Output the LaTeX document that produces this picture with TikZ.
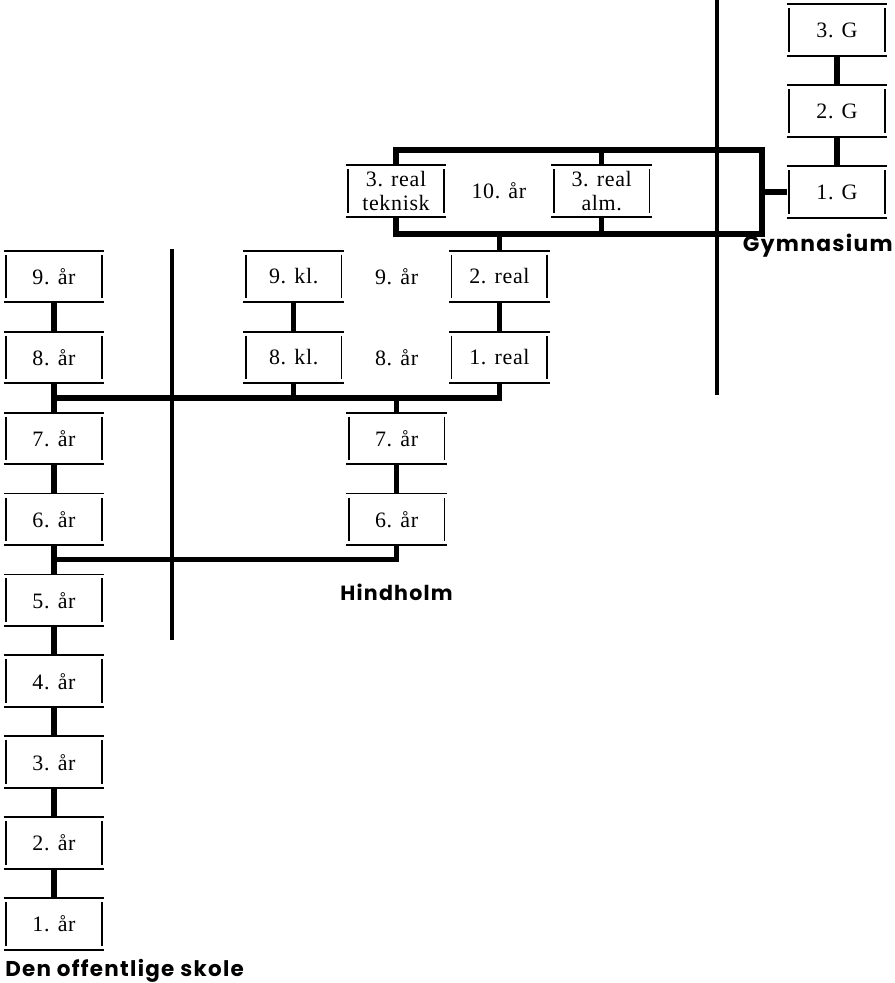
\documentclass[tikz,border=0pt]{standalone}
\usepackage{fontspec}
\setmainfont{Liberation Serif}[LetterSpace=3]
\newfontfamily\labelfont{Poppins}[LetterSpace=6]
\usetikzlibrary{positioning, calc}

\begin{document}
\begin{tikzpicture}[
    node distance=0.585cm and 2cm,
    rim/.style={line width=1.1pt},
    side/.style={line width=1pt},
    yr/.style={minimum width=2cm, minimum height=1.02cm, inner sep=0pt, align=center, font=\fontsize{12.5}{13.6}\selectfont,
        append after command={
            (\tikzlastnode.north west) edge[rim] (\tikzlastnode.north east)
            (\tikzlastnode.south west) edge[rim] (\tikzlastnode.south east)
            ([shift={(0.05,-0.08)}]\tikzlastnode.north west) edge[side] ([shift={(0.05,0.08)}]\tikzlastnode.south west)
            ([shift={(-0.05,-0.08)}]\tikzlastnode.north east) edge[side] ([shift={(-0.05,0.08)}]\tikzlastnode.south east)
        }},
    plain/.style={font=\fontsize{12.5}{13.6}\selectfont},
    link/.style={line width=3pt},
    bar/.style={line width=2.8pt},
    title/.style={font=\labelfont\bfseries\fontsize{11.7}{14}\selectfont, inner sep=0pt},
]
\useasboundingbox (0,0) rectangle (17.9,-19.66);

% Den offentlige skole
\node[yr] (y9) at (1.08,-5.53) {9. år};
\node[yr, below=of y9] (y8) {8. år};
\node[yr, below=of y8] (y7) {7. år};
\node[yr, below=of y7] (y6) {6. år};
\node[yr, below=of y6] (y5) {5. år};
\node[yr, below=of y5] (y4) {4. år};
\node[yr, below=of y4] (y3) {3. år};
\node[yr, below=of y3] (y2) {2. år};
\node[yr, below=of y2] (y1) {1. år};

% Hindholm
\node[yr, right=2.78cm of y9] (k9) {9. kl.};
\node[yr, below=of k9] (k8) {8. kl.};
\node[yr, right=2.1cm of k9] (r2) {2. real};
\node[yr, below=of r2] (r1) {1. real};
\node[plain] (t9) at ($(k9)!0.5!(r2)$) {9. år};
\node[plain] (t8) at ($(k8)!0.5!(r1)$) {8. år};
\node[yr] (m7) at (t8 |- y7) {7. år};
\node[yr, below=of m7] (m6) {6. år};

% 10. aar
\node[yr] (tk) at (7.92,-3.82) {3. real\\teknisk};
\node[yr, right=2.1cm of tk] (al) {3. real\\alm.};
\node[plain] (t10) at ($(tk)!0.5!(al)$) {10. år};

% Gymnasium
\node[yr] (g1) at (16.74,-3.84) {1. G};
\node[yr, above=of g1] (g2) {2. G};
\node[yr, above=of g2] (g3) {3. G};

\foreach \a/\b in {y9/y8, y8/y7, y7/y6, y6/y5, y5/y4, y4/y3, y3/y2, y2/y1, k9/k8, r2/r1, m7/m6, g3/g2, g2/g1} {
    \draw[link] (\a) -- (\b);
}

% branches
\coordinate (j8) at ($(y8.south)!0.5!(y7.north)$);
\coordinate (j6) at ($(y6.south)!0.5!(y5.north)$);
\draw[link] (j8) -- (j8 -| r1) -- (r1.south);
\draw[link] (k8.south) -- (k8 |- j8);
\draw[link] (m7.north) -- (m7 |- j8);
\draw[link] (j6) -- (j6 -| m6) -- (m6.south);

% frame round 10. aar
\coordinate (ft) at (15.24,-3.0);
\coordinate (fb) at (15.24,-4.68);
\draw[link] (tk.north) -- (tk |- ft) -- (ft) -- (fb) -- (tk |- fb) -- (tk.south);
\draw[link] (al.north) -- (al |- ft);
\draw[link] (al.south) -- (al |- fb);
\draw[link] (r2.north) -- (r2 |- fb);
\draw[link] (g1.west) -- (g1 -| ft);

% dividing bars
\coordinate (b1) at (3.44,-4.98);
\coordinate (b2) at (3.44,-12.8);
\coordinate (b3) at (14.34,0);
\coordinate (b4) at (14.34,-7.9);
\draw[bar] (b1) -- (b2);
\draw[bar] (b3) -- (b4);

\node[title, anchor=base east, font=\labelfont\bfseries\fontsize{12.4}{15}\selectfont] (lg) at (17.86,-5.02) {Gymnasium};
\node[title, anchor=base] (lh) at ($(m6.south)+(0,-1.1)$) {Hindholm};
\node[title, anchor=base west, font=\labelfont\bfseries\fontsize{12.2}{15}\selectfont] (ld) at (0.1,-19.52) {Den offentlige skole};

\end{tikzpicture}
\end{document}
